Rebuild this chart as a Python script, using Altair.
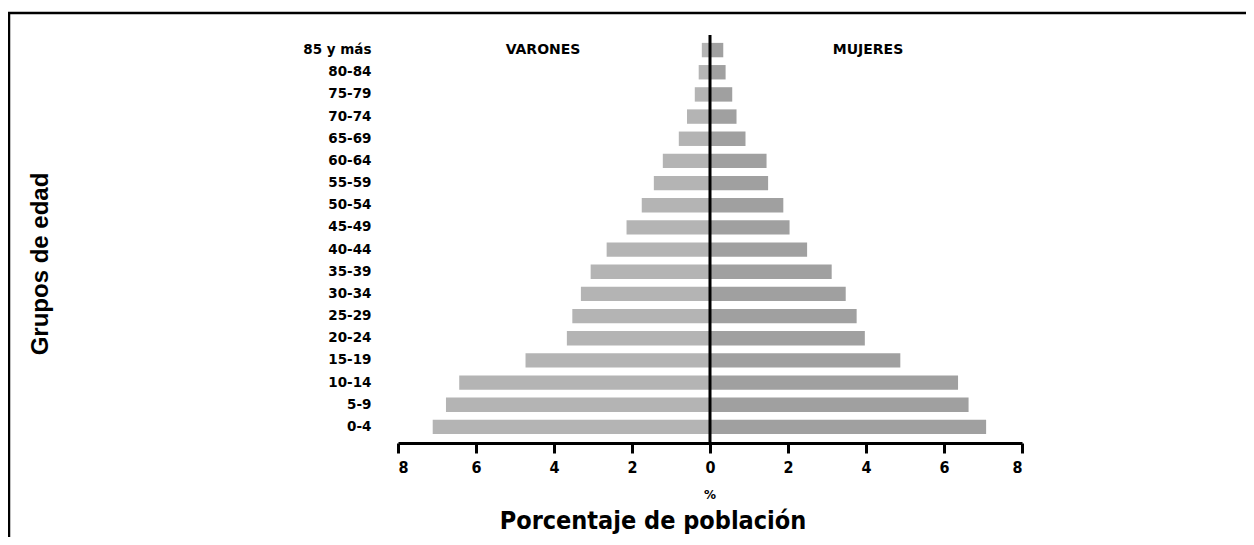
import altair as alt
import pandas as pd

# ---- data ----
ages = ["0-4", "5-9", "10-14", "15-19", "20-24", "25-29", "30-34", "35-39",
        "40-44", "45-49", "50-54", "55-59", "60-64", "65-69", "70-74",
        "75-79", "80-84", "85 y más"]
varones = [7.11, 6.77, 6.43, 4.73, 3.67, 3.53, 3.31, 3.06, 2.65, 2.14,
           1.75, 1.44, 1.21, 0.80, 0.59, 0.39, 0.29, 0.21]
mujeres = [7.08, 6.63, 6.36, 4.88, 3.97, 3.76, 3.48, 3.12, 2.49, 2.04,
           1.88, 1.49, 1.45, 0.91, 0.68, 0.57, 0.40, 0.34]
sexes = ["Varones", "Mujeres"]
colors = ["#b4b4b4", "#a0a0a0"]
x_ticks = [-8, -6, -4, -2, 0, 2, 4, 6, 8]

rows = []
for a, v in zip(ages, varones):
    rows.append({"grupo": a, "sexo": "Varones", "valor": -v})
for a, m in zip(ages, mujeres):
    rows.append({"grupo": a, "sexo": "Mujeres", "valor": m})
df = pd.DataFrame(rows)

W, H = 624, 399
PAD = {"left": 390, "top": 31, "right": 1238 - 390 - W, "bottom": 529 - 31 - H}

narrow = "Liberation Sans Narrow, DejaVu Sans Condensed, Arial Narrow, sans-serif"

yenc = alt.Y(
    "grupo:N", sort=ages[::-1],
    scale=alt.Scale(paddingInner=0.35, paddingOuter=0.175),
    axis=alt.Axis(title=None, domain=False, ticks=False, labelPadding=27,
                  labelFont="DejaVu Sans", labelFontWeight="bold",
                  labelFontSize=13.5, labelColor="black"),
)
xenc = alt.X(
    "valor:Q",
    scale=alt.Scale(domain=[-8, 8], nice=False, zero=False),
    axis=alt.Axis(values=x_ticks, labelExpr="abs(datum.value)", title=None,
                  grid=False, domainColor="black", domainWidth=3,
                  tickColor="black", tickWidth=3, tickSize=10, offset=5,
                  labelFont=narrow, labelFontSize=16, labelFontWeight="bold",
                  labelColor="black", labelPadding=6),
)

bars = alt.Chart(df).mark_bar().encode(
    x=xenc, y=yenc,
    color=alt.Color("sexo:N", scale=alt.Scale(domain=sexes, range=colors), legend=None),
)

zero = alt.Chart(pd.DataFrame({"x": [0]})).mark_rule(color="black", strokeWidth=3).encode(
    x="x:Q", y=alt.value(-4), y2=alt.value(404)
)


def label(txt, x, y, size, font="DejaVu Sans", angle=0, baseline="middle"):
    kw = dict(font=font, fontSize=size, fontWeight="bold", color="black",
              align="center", baseline=baseline)
    if angle:
        kw["angle"] = angle
    return alt.Chart(pd.DataFrame({"t": [txt]})).mark_text(**kw).encode(
        text="t:N", x=alt.value(x), y=alt.value(y)
    )


t_var = label("VARONES", 145, 11, 14)
t_muj = label("MUJERES", 470, 11, 14)
t_pct = label("%", 312, 456, 12)
t_xt = label("Porcentaje de población", 255, 490, 25, font=narrow, baseline="alphabetic")
t_yt = label("Grupos de edad", -357, 225, 24, font="Liberation Sans, Arial, sans-serif", angle=270)

border_top = alt.Chart(pd.DataFrame({"a": [0]})).mark_rule(color="black", strokeWidth=2.5).encode(
    x=alt.value(-390), x2=alt.value(W + PAD["right"]), y=alt.value(-26)
)
border_left = alt.Chart(pd.DataFrame({"a": [0]})).mark_rule(color="black", strokeWidth=2.5).encode(
    x=alt.value(-389), y=alt.value(-27), y2=alt.value(H + PAD["bottom"])
)

chart = alt.layer(
    bars, zero, t_var, t_muj, t_pct, t_xt, t_yt, border_top, border_left
).properties(
    width=W, height=H, padding=PAD,
    autosize=alt.AutoSizeParams(type="none"),
    background="white",
).configure_view(stroke=None)

chart.save("out.html", embed_options={"renderer": "svg", "actions": False})
